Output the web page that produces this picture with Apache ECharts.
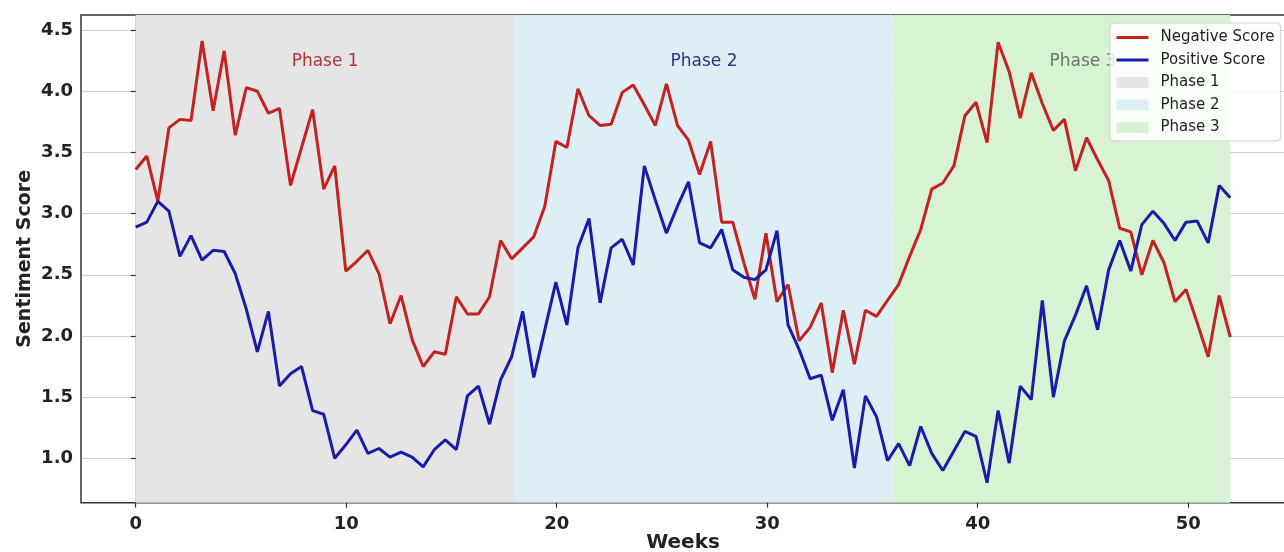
<!DOCTYPE html>
<html>
<head>
<meta charset="utf-8">
<script src="https://cdn.jsdelivr.net/npm/echarts@6/dist/echarts.min.js"></script>
<style>
html,body{margin:0;padding:0;background:#fff;}
#chart{width:1284px;height:552px;}
</style>
</head>
<body>
<div id="chart"></div>
<script>
// x positions: 100 evenly spaced samples over weeks 0..52
const nPoints = 100;
const weekStart = 0, weekEnd = 52;
const weeks = Array.from({length: nPoints}, (_, i) => weekStart + i * (weekEnd - weekStart) / (nPoints - 1));

const negativeScore = [
  3.36,3.47,3.10,3.70,3.77,3.76,4.41,3.84,4.33,3.64,
  4.03,4.00,3.82,3.86,3.23,3.54,3.85,3.20,3.39,2.53,
  2.61,2.70,2.51,2.10,2.33,1.97,1.75,1.87,1.85,2.32,
  2.18,2.18,2.32,2.78,2.63,2.72,2.81,3.06,3.59,3.54,
  4.02,3.80,3.72,3.73,3.99,4.05,3.89,3.72,4.06,3.72,
  3.60,3.32,3.59,2.93,2.93,2.60,2.30,2.84,2.28,2.42,
  1.96,2.07,2.27,1.70,2.21,1.77,2.21,2.16,2.29,2.42,
  2.65,2.87,3.20,3.25,3.39,3.80,3.91,3.58,4.40,4.16,
  3.78,4.15,3.90,3.68,3.77,3.35,3.62,3.44,3.27,2.88,
  2.85,2.50,2.78,2.60,2.28,2.38,2.11,1.83,2.33,1.99
];
const positiveScore = [
  2.89,2.93,3.10,3.02,2.65,2.82,2.62,2.70,2.69,2.51,
  2.22,1.87,2.20,1.59,1.69,1.75,1.39,1.36,1.00,1.11,
  1.23,1.04,1.08,1.01,1.05,1.01,0.93,1.07,1.15,1.07,
  1.51,1.59,1.28,1.64,1.83,2.20,1.66,2.05,2.44,2.09,
  2.72,2.96,2.27,2.72,2.79,2.58,3.39,3.11,2.84,3.06,
  3.26,2.76,2.72,2.87,2.54,2.48,2.46,2.54,2.86,2.09,
  1.89,1.65,1.68,1.31,1.56,0.92,1.51,1.34,0.98,1.12,
  0.94,1.26,1.04,0.90,1.06,1.22,1.18,0.80,1.39,0.96,
  1.59,1.48,2.29,1.50,1.96,2.17,2.41,2.05,2.54,2.78,
  2.53,2.91,3.02,2.92,2.78,2.93,2.94,2.76,3.23,3.13
];

const seriesNames = ['Negative Score', 'Positive Score'];
const phaseNames = ['Phase 1', 'Phase 2', 'Phase 3'];
const phaseStart = [0, 18, 36];
const phaseEnd = [18, 36, 52];
const phaseLabelX = [9, 27, 45];
const phaseLabelY = 4.24;

const xTicks = [0, 10, 20, 30, 40, 50];
const yTicks = [1.0, 1.5, 2.0, 2.5, 3.0, 3.5, 4.0, 4.5];
const xMin = -2.6, xMax = 54.6;
const yMin = 0.637, yMax = 4.623;

const lineColors = ['#c22222', '#1b1ba8'];
const phaseFill = ['#e5e5e5', '#ddeef4', '#d7f3d3'];
const phaseTextColor = ['#b03434', '#2b3580', '#667a66'];

const font = 'DejaVu Sans';
const chart = echarts.init(document.getElementById('chart'), null, {renderer: 'canvas'});

const phaseSeries = phaseNames.map((name, k) => ({
  name: name,
  type: 'line',
  data: [],
  z: 0.5,
  color: phaseFill[k],
  itemStyle: {color: phaseFill[k]},
  silent: true,
  markArea: {
    silent: true,
    itemStyle: {color: phaseFill[k], opacity: 1},
    data: [[{xAxis: phaseStart[k]}, {xAxis: phaseEnd[k]}]]
  },
  markPoint: {
    silent: true,
    symbol: 'circle',
    symbolSize: 0,
    data: [{coord: [phaseLabelX[k], phaseLabelY], value: name}],
    label: {
      show: true, position: 'inside', formatter: name,
      color: phaseTextColor[k], fontSize: 17, fontFamily: font
    }
  }
}));

const lineSeries = [negativeScore, positiveScore].map((vals, k) => ({
  name: seriesNames[k],
  type: 'line',
  symbol: 'none',
  z: 2,
  color: lineColors[k],
  lineStyle: {width: 3, color: lineColors[k]},
  data: weeks.map((w, i) => [w, vals[i]])
}));

chart.setOption({
  animation: false,
  backgroundColor: '#fff',
  grid: {
    left: 81, right: -1, top: 15, bottom: 49.3,
    outerBoundsMode: 'none', containLabel: false,
    show: true, borderColor: '#333', borderWidth: 1.5, z: 1
  },
  legend: {
    orient: 'vertical', left: 1110, top: 23,
    padding: [7, 6, 6, 5],
    backgroundColor: 'rgba(255,255,255,0.82)',
    borderColor: '#d3d3d3', borderWidth: 1, borderRadius: 4,
    itemWidth: 32, itemHeight: 11, itemGap: 7.5,
    z: 10,
    textStyle: {fontSize: 15, fontFamily: font, color: '#222', padding: [0, 0, 0, 7]},
    data: [
      {name: seriesNames[0], itemStyle: {opacity: 0}, lineStyle: {width: 3}},
      {name: seriesNames[1], itemStyle: {opacity: 0}, lineStyle: {width: 3}},
      {name: phaseNames[0], icon: 'rect'},
      {name: phaseNames[1], icon: 'rect'},
      {name: phaseNames[2], icon: 'rect'}
    ]
  },
  xAxis: {
    type: 'value', min: xMin, max: xMax, z: 1,
    name: 'Weeks', nameLocation: 'middle', nameGap: 30, nameMoveOverlap: false,
    nameTextStyle: {fontSize: 20, fontWeight: 'bold', fontFamily: font, color: '#222'},
    axisLine: {show: false},
    axisTick: {show: true, customValues: xTicks, length: 5, lineStyle: {color: '#333', width: 1.2}},
    axisLabel: {customValues: xTicks, fontSize: 18, fontWeight: 'bold', fontFamily: font, color: '#222', margin: 13},
    splitLine: {show: true, lineStyle: {color: 'rgba(120,120,120,0.35)', width: 1}}
  },
  yAxis: {
    type: 'value', min: yMin, max: yMax, z: 1,
    name: 'Sentiment Score', nameLocation: 'middle', nameGap: 46, nameRotate: 90, nameMoveOverlap: false,
    nameTextStyle: {fontSize: 19, fontWeight: 'bold', fontFamily: font, color: '#222'},
    axisLine: {show: false},
    axisTick: {show: true, customValues: yTicks, length: 5, lineStyle: {color: '#333', width: 1.2}},
    axisLabel: {customValues: yTicks, fontSize: 18, fontWeight: 'bold', fontFamily: font, color: '#222', margin: 8,
      formatter: v => v.toFixed(1)},
    splitLine: {show: true, lineStyle: {color: 'rgba(120,120,120,0.35)', width: 1}}
  },
  series: phaseSeries.concat(lineSeries)
});
</script>
</body>
</html>
